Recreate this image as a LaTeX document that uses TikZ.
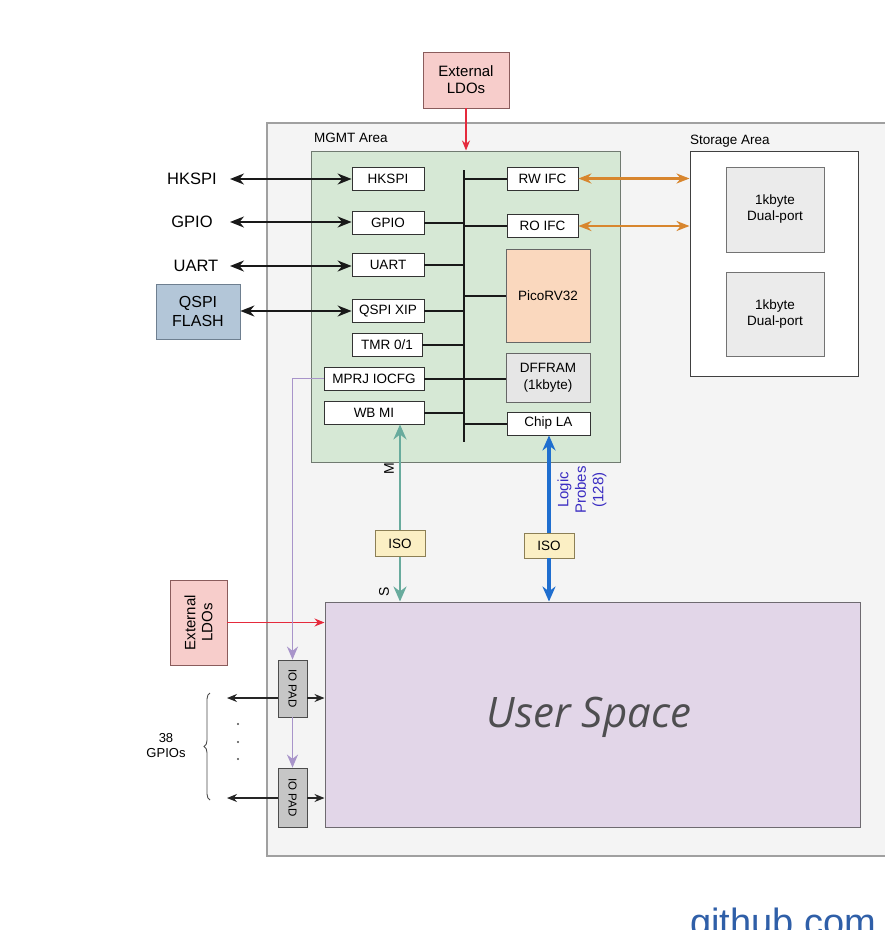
\documentclass[tikz,border=0pt]{standalone}
\usepackage{fontspec}
\setmainfont{Liberation Sans}
\newfontfamily\usfont{Open Sans}
\usetikzlibrary{arrows.meta,decorations.pathreplacing,calc}
\definecolor{chipfill}{HTML}{F4F4F4}
\definecolor{chipdraw}{HTML}{A0A0A0}
\definecolor{mgmtfill}{HTML}{D6E8D5}
\definecolor{mgmtdraw}{HTML}{707A70}
\definecolor{picofill}{HTML}{FAD8BE}
\definecolor{dfffill}{HTML}{E6E6E6}
\definecolor{qspifill}{HTML}{B3C6D8}
\definecolor{qspidraw}{HTML}{6E7F90}
\definecolor{ldofill}{HTML}{F7CDCB}
\definecolor{ldodraw}{HTML}{8A5C5C}
\definecolor{userfill}{HTML}{E2D6E8}
\definecolor{userdraw}{HTML}{6E6A70}
\definecolor{isofill}{HTML}{FBEFC4}
\definecolor{isodraw}{HTML}{8C7F55}
\definecolor{padfill}{HTML}{C6C6C6}
\definecolor{dualfill}{HTML}{EBEBEB}
\definecolor{tealc}{HTML}{68AB9D}
\definecolor{bluec}{HTML}{1F6ECF}
\definecolor{orangec}{HTML}{D8862E}
\definecolor{purplec}{HTML}{A894CA}
\definecolor{redc}{HTML}{E52A3C}
\definecolor{probec}{HTML}{3A2CC2}
\definecolor{usertext}{HTML}{4E4E50}
\definecolor{ghblue}{HTML}{2F5FA8}
\begin{document}
\begin{tikzpicture}[x=1pt,y=-1pt,
  every node/.style={font=\fontsize{13.5}{15}\selectfont, inner sep=0pt, align=center},
  wbox/.style={draw=black!80, fill=white, line width=0.8pt, minimum height=23},
  bigl/.style={font=\fontsize{16.5}{18}\selectfont},
  smalll/.style={font=\fontsize{13.5}{15}\selectfont},
  busl/.style={line width=2pt, black!90},
  blkarrow/.style={line width=2pt, black!90, {Stealth[length=14pt,width=11pt]}-{Stealth[length=14pt,width=11pt]}},
  orarrow/.style={line width=2.2pt, orangec, {Stealth[length=13pt,width=10pt]}-{Stealth[length=13pt,width=10pt]}},
  tealarrow/.style={line width=2.6pt, tealc, -{Stealth[length=15pt,width=13pt]}},
  bluearrow/.style={line width=3.2pt, bluec, -{Stealth[length=15pt,width=13pt]}},
  redarrow/.style={line width=1.1pt, redc, -{Stealth[length=10pt,width=8pt]}},
  purparrow/.style={line width=1.8pt, purplec, -{Stealth[length=13pt,width=11pt]}},
  gpioarrow/.style={line width=1.1pt, black!85, -{Stealth[length=10pt,width=8pt]}}
]
\useasboundingbox (0,0) rectangle (885,930);
\fill[white] (0,0) rectangle (885,930);

% chip outline
\draw[fill=chipfill, draw=chipdraw, line width=1.3pt] (267,123) rectangle (900,856);

% top LDO
\node[draw=ldodraw, fill=ldofill, line width=0.8pt, minimum width=86, minimum height=56, font=\fontsize{15}{17}\selectfont] (ldotop) at (466,80) {External\\LDOs};

% MGMT area
\node[draw=mgmtdraw, fill=mgmtfill, line width=1pt, minimum width=309, minimum height=311] (mgmt) at (465.5,306.5) {};
\node[anchor=west, smalll] (mgmtlbl) at (314,138) {MGMT Area};
\draw[redarrow] (ldotop.south) -- (ldotop.south |- mgmt.north);

% bus
\coordinate (bustop) at (464,170);
\coordinate (busbot) at (464,442);
\draw[busl] (bustop) -- (busbot);

% left column blocks
\node[wbox, minimum width=72] (hkspi) at (388,178.5) {HKSPI};
\node[wbox, minimum width=72] (gpio) at (388,222.5) {GPIO};
\node[wbox, minimum width=72] (uart) at (388,265) {UART};
\node[wbox, minimum width=72] (qspixip) at (388,311) {QSPI XIP};
\node[wbox, minimum width=70] (tmr) at (387,345) {TMR 0/1};
\node[wbox, minimum width=100] (mprj) at (374,378.5) {MPRJ IOCFG};
\node[wbox, minimum width=100] (wbmi) at (374,412.5) {WB MI};

% right column blocks
\node[wbox, minimum width=71] (rwifc) at (542.5,178.5) {RW IFC};
\node[wbox, minimum width=71] (roifc) at (542.5,226) {RO IFC};
\node[draw=black!60, fill=picofill, line width=0.8pt, minimum width=84, minimum height=93] (pico) at (548,295.5) {PicoRV32};
\node[draw=black!60, fill=dfffill, line width=0.8pt, minimum width=84, minimum height=49, font=\fontsize{13.5}{17}\selectfont] (dffram) at (548,377.5) {DFFRAM\\(1kbyte)};
\node[wbox, minimum width=83] (chipla) at (548.5,423.5) {Chip LA};

% bus taps
\draw[busl] (gpio.east) -- (gpio.east -| bustop);
\draw[busl] (uart.east) -- (uart.east -| bustop);
\draw[busl] (qspixip.east) -- (qspixip.east -| bustop);
\draw[busl] (tmr.east) -- (tmr.east -| bustop);
\draw[busl] (mprj.east) -- (mprj.east -| dffram.west);
\draw[busl] (wbmi.east) -- (wbmi.east -| bustop);
\draw[busl] (rwifc.west) -- (rwifc.west -| bustop);
\draw[busl] (roifc.west) -- (roifc.west -| bustop);
\draw[busl] (pico.west) -- (pico.west -| bustop);
\draw[busl] (chipla.west) -- (chipla.west -| bustop);

% external labels left
\node[bigl] (lhkspi) at (192,179) {HKSPI};
\node[bigl] (lgpio) at (192,222) {GPIO};
\node[bigl] (luart) at (196,266) {UART};
\node[draw=qspidraw, fill=qspifill, line width=0.8pt, minimum width=84, minimum height=55, font=\fontsize{16}{19}\selectfont] (qflash) at (198,311.5) {QSPI\\FLASH};
\coordinate (a1) at (230,179);
\coordinate (a2) at (230,222);
\coordinate (a3) at (230,266);
\draw[blkarrow] (a1) -- (hkspi.west |- a1);
\draw[blkarrow] (a2) -- (gpio.west |- a2);
\draw[blkarrow] (a3) -- (uart.west |- a3);
\draw[blkarrow] (qflash.east |- qspixip.west) -- (qspixip.west);

% storage area
\node[draw=black!75, fill=white, line width=1pt, minimum width=168, minimum height=225] (storage) at (774,263.5) {};
\node[anchor=west, smalll] (storlbl) at (690,141) {Storage Area};
\node[draw=black!55, fill=dualfill, line width=0.8pt, minimum width=98, minimum height=85, font=\fontsize{13.5}{16}\selectfont] (dual1) at (775,209.5) {1kbyte\\Dual-port};
\node[draw=black!55, fill=dualfill, line width=0.8pt, minimum width=98, minimum height=84, font=\fontsize{13.5}{16}\selectfont] (dual2) at (775,314) {1kbyte\\Dual-port};
\draw[orarrow] (rwifc.east) -- (rwifc.east -| storage.west);
\draw[orarrow] (roifc.east) -- (roifc.east -| storage.west);

% user space
\node[draw=userdraw, fill=userfill, line width=1pt, minimum width=535, minimum height=225] (user) at (592.5,714.5) {};
\node[font=\usfont\itshape\fontsize{42}{46}\selectfont, text=usertext] (usertxt) at (589,717) {User Space};

% ISO blocks and arrows
\node[draw=isodraw, fill=isofill, line width=0.8pt, minimum width=50, minimum height=26] (iso1) at (400,543.5) {ISO};
\node[draw=isodraw, fill=isofill, line width=0.8pt, minimum width=50, minimum height=25] (iso2) at (549,545.5) {ISO};
\draw[tealarrow] (iso1.north) -- (iso1.north |- wbmi.south);
\draw[tealarrow] (iso1.south) -- (iso1.south |- user.north);
\draw[bluearrow] (iso2.north) -- (iso2.north |- chipla.south);
\draw[bluearrow] (iso2.south) -- (iso2.south |- user.north);
\node[rotate=90, font=\fontsize{14}{16}\selectfont] (mlbl) at (389,469) {M};
\node[rotate=90, font=\fontsize{14}{16}\selectfont] (slbl) at (384,592) {S};
\node[rotate=90, text=probec, font=\fontsize{15}{17.5}\selectfont] (probes) at (582,490) {Logic\\Probes\\(128)};

% left LDO
\node[draw=ldodraw, fill=ldofill, line width=0.8pt, minimum width=57, minimum height=85] (ldoleft) at (198.5,622.5) {};
\node[rotate=90, font=\fontsize{15}{17}\selectfont] (ldoltxt) at (198.5,622.5) {External\\LDOs};
\draw[redarrow] (ldoleft.east) -- (ldoleft.east -| user.west);

% IO pads
\node[draw=black!70, fill=padfill, line width=0.8pt, minimum width=29, minimum height=57] (pad1) at (292.5,688.5) {};
\node[rotate=-90, font=\fontsize{11.5}{13}\selectfont] (pad1t) at (292.5,688.5) {IO PAD};
\node[draw=black!70, fill=padfill, line width=0.8pt, minimum width=29, minimum height=59] (pad2) at (292.5,797.5) {};
\node[rotate=-90, font=\fontsize{11.5}{13}\selectfont] (pad2t) at (292.5,797.5) {IO PAD};
\draw[purparrow] (mprj.west) -| (pad1.north);
\draw[purparrow] (pad1.south) -- (pad2.north);

\coordinate (g1) at (227,698);
\coordinate (g2) at (227,798);
\draw[gpioarrow] (pad1.west |- g1) -- (g1);
\draw[gpioarrow] (pad1.east |- g1) -- (user.west |- g1);
\draw[gpioarrow] (pad2.west |- g2) -- (g2);
\draw[gpioarrow] (pad2.east |- g2) -- (user.west |- g2);

\fill[black!70] (238,724) circle (1.1pt) (238,742) circle (1.1pt) (238,759) circle (1.1pt);
\draw[black!70, line width=0.9pt, decorate, decoration={brace, amplitude=6pt}] (210,800) -- (210,693);
\node[font=\fontsize{13}{15}\selectfont] (gpiolbl) at (166,746) {38\\GPIOs};

% footer
\node[anchor=base west, text=ghblue, font=\fontsize{38}{40}\selectfont] (gh) at (690,935) {github.com};
\end{tikzpicture}
\end{document}
